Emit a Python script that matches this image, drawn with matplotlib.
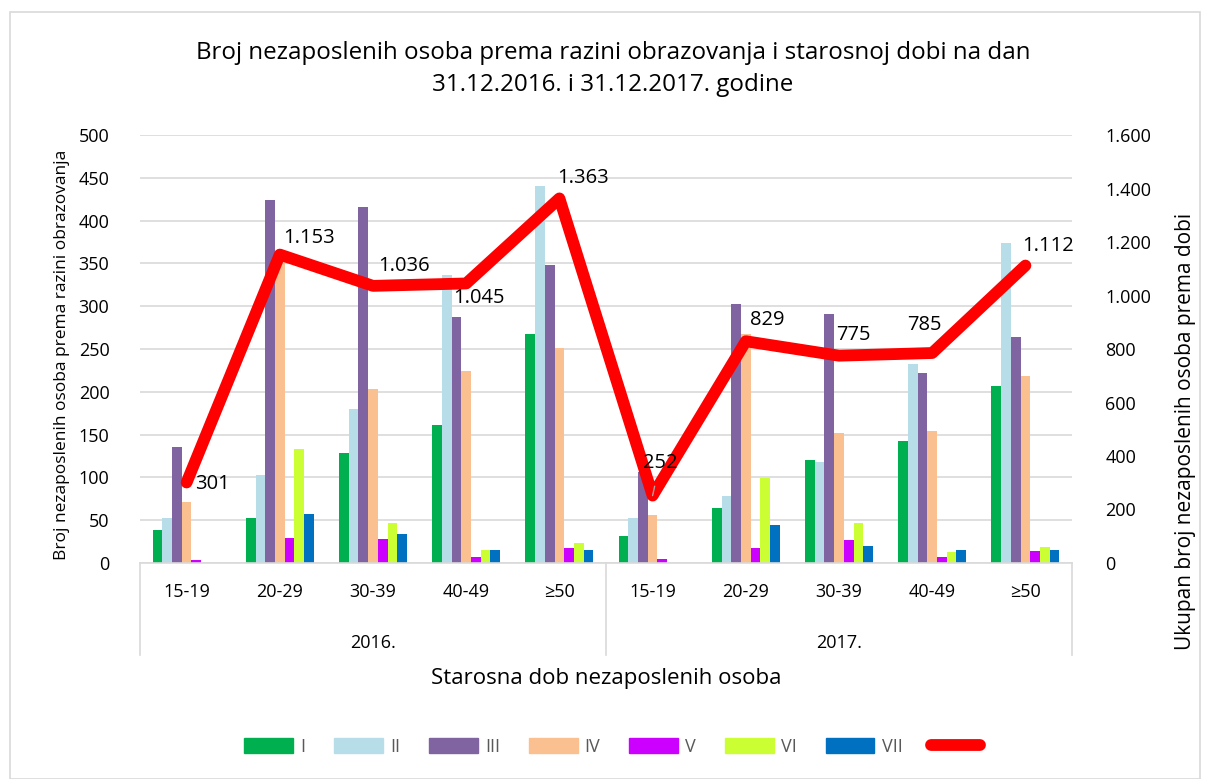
import numpy as np
import matplotlib
matplotlib.use("Agg")
import matplotlib.pyplot as plt
from matplotlib.patches import Rectangle
from matplotlib.lines import Line2D
import matplotlib.transforms as mtransforms

plt.rcParams['font.family'] = ['Open Sans', 'DejaVu Sans']

# --- podaci ---
ages = ["15-19", "20-29", "30-39", "40-49", "≥50"]
years = ["2016.", "2017."]
levels = ["I", "II", "III", "IV", "V", "VI", "VII"]

lvl_I = [38, 52, 128, 161, 268, 32, 64, 120, 142, 207]
lvl_II = [53, 103, 180, 336, 440, 53, 78, 118, 232, 374]
lvl_III = [136, 424, 416, 287, 348, 106, 302, 291, 222, 264]
lvl_IV = [71, 355, 203, 224, 251, 56, 268, 152, 154, 219]
lvl_V = [3, 29, 28, 7, 18, 5, 18, 27, 7, 14]
lvl_VI = [0, 133, 47, 15, 23, 0, 99, 47, 13, 19]
lvl_VII = [0, 57, 34, 15, 15, 0, 44, 20, 15, 15]
totals = [301, 1153, 1036, 1045, 1363, 252, 829, 775, 785, 1112]

colors = ["#00b050", "#b7dde8", "#8064a2", "#fac090", "#cc00ff", "#ccff33", "#0070c0"]
# pomaci oznaka linije (px, lijevi rub teksta)
lbl_off = [(8, -2), (3, 17), (5, 20), (-13, -15), (-2, 20),
           (-10, 33), (4, 21), (-3, 21), (-25, 28), (-3, 20)]

series = [lvl_I, lvl_II, lvl_III, lvl_IV, lvl_V, lvl_VI, lvl_VII]
n = len(totals)
x = np.arange(n)

fig = plt.figure(figsize=(12.08, 7.79), dpi=100)
ax = fig.add_axes([140 / 1208, 1 - 563 / 779, (1072 - 140) / 1208, (563 - 135) / 779])
ax2 = ax.twinx()

# okvir oko grafikona
fig.patches.append(Rectangle((10 / 1208, 0.0), 1190 / 1208, 1 - 12 / 779,
                             transform=fig.transFigure, fill=False,
                             edgecolor="#d9d9d9", lw=1.2))

w = 0.104
for i, (vals, c) in enumerate(zip(series, colors)):
    ax.bar(x + (i - 3) * w, vals, width=w, color=c, label=levels[i], zorder=2)

ax.set_xlim(-0.5, n - 0.5)
ax.set_ylim(0, 500)
ax.set_yticks(np.arange(0, 501, 50))
ax.grid(axis="y", color="#d9d9d9", lw=1.2, zorder=0)
ax.set_axisbelow(True)
for s in ["top", "left", "right"]:
    ax.spines[s].set_visible(False)
    ax2.spines[s].set_visible(False)
ax.spines["bottom"].set_color("#d9d9d9")
ax.spines["bottom"].set_linewidth(1.2)
ax2.spines["bottom"].set_visible(False)
ax.tick_params(axis="y", length=0, labelsize=13, pad=22)
ax.set_xticks([])

ax2.plot(x, totals, color="#ff0000", lw=8.5, solid_joinstyle="round",
         solid_capstyle="round", zorder=5)
ax2.set_ylim(0, 1600)
ax2.set_yticks(np.arange(0, 1601, 200))
ax2.set_yticklabels([f"{v:,}".replace(",", ".") for v in range(0, 1601, 200)])
ax2.tick_params(axis="y", length=0, labelsize=13, pad=24)
ax.set_zorder(ax2.get_zorder() - 1)
ax.patch.set_visible(False)

for k, (xi, t, (dx, dy)) in enumerate(zip(x, totals, lbl_off)):
    arrow = None
    if k == 5:
        arrow = dict(arrowstyle="-", color="#a6a6a6", lw=1, shrinkA=8, shrinkB=0)
    ax2.annotate(f"{t:,}".replace(",", "."), (xi, t), xytext=(dx, dy),
                 textcoords="offset pixels", fontsize=14.5,
                 ha="left", va="center", zorder=6, arrowprops=arrow)

# kategorijska os u dvije razine
trans = mtransforms.blended_transform_factory(ax.transData, ax.transAxes)
for xi in x:
    ax.text(xi, -0.068, ages[xi % 5], transform=trans, ha="center", va="center", fontsize=13)
for k, yr in enumerate(years):
    ax.text(2 + 5 * k, -0.187, yr, transform=trans, ha="center", va="center", fontsize=13)
for xs in [-0.5, 4.5, 9.5]:
    ax.plot([xs, xs], [0, -0.215], transform=trans, color="#d9d9d9", lw=1.2, clip_on=False)

ax.text(0.5, -0.269, "Starosna dob nezaposlenih osoba", transform=ax.transAxes,
        ha="center", va="center", fontsize=16)
fig.text(62 / 1208, 1 - 355 / 779, "Broj nezaposlenih osoba prema razini obrazovanja",
         rotation=90, ha="center", va="center", fontsize=12.5)
fig.text(1185 / 1208, 1 - 431 / 779, "Ukupan broj nezaposlenih osoba prema dobi",
         rotation=90, ha="center", va="center", fontsize=15)

fig.text(613 / 1208, 1 - 69 / 779,
         "Broj nezaposlenih osoba prema razini obrazovanja i starosnoj dobi na dan\n"
         "31.12.2016. i 31.12.2017. godine",
         ha="center", va="center", fontsize=17.4, linespacing=1.4)

handles = [Rectangle((0, 0), 1, 1, color=c) for c in colors]
handles.append(Line2D([0], [0], color="#ff0000", lw=8.5, solid_capstyle="round"))
fig.legend(handles, levels + [" "], loc="center", bbox_to_anchor=(618 / 1208, 1 - 747 / 779),
           ncol=8, frameon=False, fontsize=13, labelcolor="#595959",
           handlelength=2.7, handleheight=0.9, columnspacing=1.6, handletextpad=0.4)

fig.savefig("out.png", dpi=100)
